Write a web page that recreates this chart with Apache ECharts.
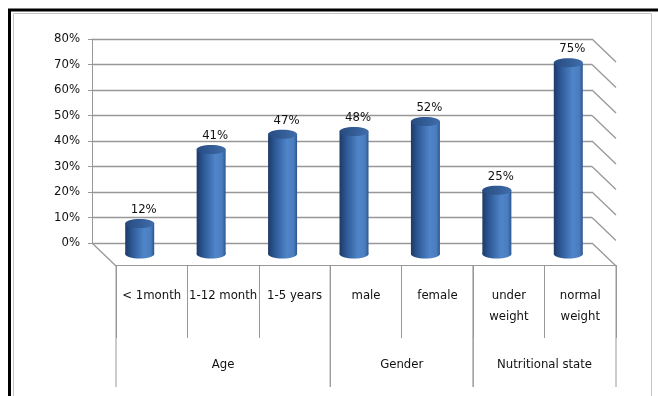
<!DOCTYPE html>
<html>
<head>
<meta charset="utf-8">
<script src="https://cdn.jsdelivr.net/npm/echarts@6/dist/echarts.min.js"></script>
<style>
  html, body { margin: 0; padding: 0; background: #fff; }
  #chart { width: 658px; height: 396px; }
</style>
</head>
<body>
<div id="chart"></div>
<script>
const categories = ['< 1month', '1-12 month', '1-5 years', 'male', 'female', 'under\nweight', 'normal\nweight']
const values = [0.12, 0.41, 0.47, 0.48, 0.52, 0.25, 0.75]
const groups = ['Age', 'Gender', 'Nutritional state']
const groupStart = [0, 3, 5]
const groupSize = [3, 2, 2]
const yTicks = [0, 0.1, 0.2, 0.3, 0.4, 0.5, 0.6, 0.7, 0.8]

const FONT = '"Liberation Sans Narrow", "DejaVu Sans Condensed", sans-serif'
const DX = 24
const DY = 23
const LINE = '#989898'

const chart = echarts.init(document.getElementById('chart'), null, { renderer: 'canvas' })

function pct(v) {
  return Math.round(v * 100) + '%'
}

chart.setOption({
  animation: false,
  graphic: [
    { type: 'rect', shape: { x: 9.5, y: 10, width: 700, height: 500 }, style: { fill: 'none', stroke: '#000', lineWidth: 3 } },
    { type: 'rect', shape: { x: 13.5, y: 13.5, width: 638, height: 500 }, style: { fill: 'none', stroke: '#c4c4c4', lineWidth: 1 } }
  ],
  grid: [
    { left: 92, top: 39, right: 66, bottom: 153 },
    { left: 116, top: 62, right: 42, bottom: 131 }
  ],
  xAxis: [
    {
      type: 'category', gridIndex: 0, data: categories,
      axisLine: { show: false }, axisTick: { show: false }, axisLabel: { show: false }
    },
    {
      type: 'category', gridIndex: 1, data: categories,
      axisLine: { lineStyle: { color: LINE, width: 1 } },
      axisTick: { show: true, length: 73, interval: 0, lineStyle: { color: LINE } },
      axisLabel: { interval: 0, margin: 20, fontFamily: FONT, fontSize: 13, color: '#111', lineHeight: 21 }
    }
  ],
  yAxis: [
    {
      type: 'value', gridIndex: 0, min: 0, max: 0.8, interval: 0.1,
      axisLine: { show: true, lineStyle: { color: LINE } },
      axisTick: { show: true, length: 4, lineStyle: { color: LINE } },
      axisLabel: { formatter: pct, margin: 12, fontFamily: FONT, fontSize: 13, color: '#111' },
      splitLine: { lineStyle: { color: LINE, width: 1.3 } }
    },
    { type: 'value', gridIndex: 1, min: 0, max: 1, show: false }
  ],
  series: [
    {
      // side edges of the 3D walls
      type: 'custom', xAxisIndex: 0, yAxisIndex: 0,
      data: yTicks.map((v) => [0, v]),
      renderItem(params, api) {
        const cs = params.coordSys
        const y = api.coord([0, api.value(1)])[1]
        const right = cs.x + cs.width
        const kids = [{
          type: 'line',
          shape: { x1: right, y1: y, x2: right + DX, y2: y + DY },
          style: { stroke: LINE, lineWidth: 1.3 }
        }]
        if (api.value(1) === 0) {
          kids.push({
            type: 'line',
            shape: { x1: cs.x, y1: y, x2: cs.x + DX, y2: y + DY },
            style: { stroke: LINE, lineWidth: 1.3 }
          })
        }
        return { type: 'group', children: kids }
      },
      z: 1
    },
    {
      // cylinders
      type: 'custom', xAxisIndex: 0, yAxisIndex: 0,
      data: values.map((v, i) => [i, v]),
      renderItem(params, api) {
        const base = api.coord([api.value(0), 0])
        const top = api.coord([api.value(0), api.value(1)])
        const cx = base[0] + 12
        const by = base[1] + 11
        const ty = top[1] + 11
        const rx = 14.5
        const ry = 4.5
        const body = new echarts.graphic.LinearGradient(0, 0, 1, 0, [
          { offset: 0, color: '#1d3a68' },
          { offset: 0.25, color: '#2e5a98' },
          { offset: 0.65, color: '#4f85c9' },
          { offset: 0.88, color: '#4a7dbe' },
          { offset: 1, color: '#2c5590' }
        ])
        const cap = new echarts.graphic.LinearGradient(0, 0, 1, 0, [
          { offset: 0, color: '#274b80' },
          { offset: 1, color: '#3f6dab' }
        ])
        return {
          type: 'group',
          children: [
            { type: 'ellipse', shape: { cx, cy: by, rx, ry }, style: { fill: body } },
            { type: 'rect', shape: { x: cx - rx, y: ty, width: rx * 2, height: by - ty }, style: { fill: body } },
            { type: 'ellipse', shape: { cx, cy: ty, rx, ry }, style: { fill: cap } },
            {
              type: 'text', x: cx + 4, y: ty - 14,
              style: { text: pct(api.value(1)), fontFamily: FONT, fontSize: 13, fill: '#111', align: 'center', verticalAlign: 'middle' }
            }
          ]
        }
      },
      z: 3
    },
    {
      // group level of the category axis
      type: 'custom', xAxisIndex: 1, yAxisIndex: 1,
      data: groups.map((g, i) => ({ name: g, value: [groupStart[i], groupSize[i]] })),
      renderItem(params, api) {
        const bw = api.size([1, 0])[0]
        const p = api.coord([api.value(0), 0])
        const x0 = p[0] - bw / 2
        const x1 = x0 + api.value(1) * bw
        const y = p[1]
        return {
          type: 'group',
          children: [
            { type: 'line', shape: { x1: x0, y1: y, x2: x0, y2: y + 122 }, style: { stroke: LINE, lineWidth: 1 } },
            { type: 'line', shape: { x1: x1, y1: y, x2: x1, y2: y + 122 }, style: { stroke: LINE, lineWidth: 1 } },
            {
              type: 'text', x: (x0 + x1) / 2, y: y + 100,
              style: { text: groups[params.dataIndex], fontFamily: FONT, fontSize: 13, fill: '#111', align: 'center', verticalAlign: 'middle' }
            }
          ]
        }
      },
      z: 2
    }
  ]
})
</script>
</body>
</html>
